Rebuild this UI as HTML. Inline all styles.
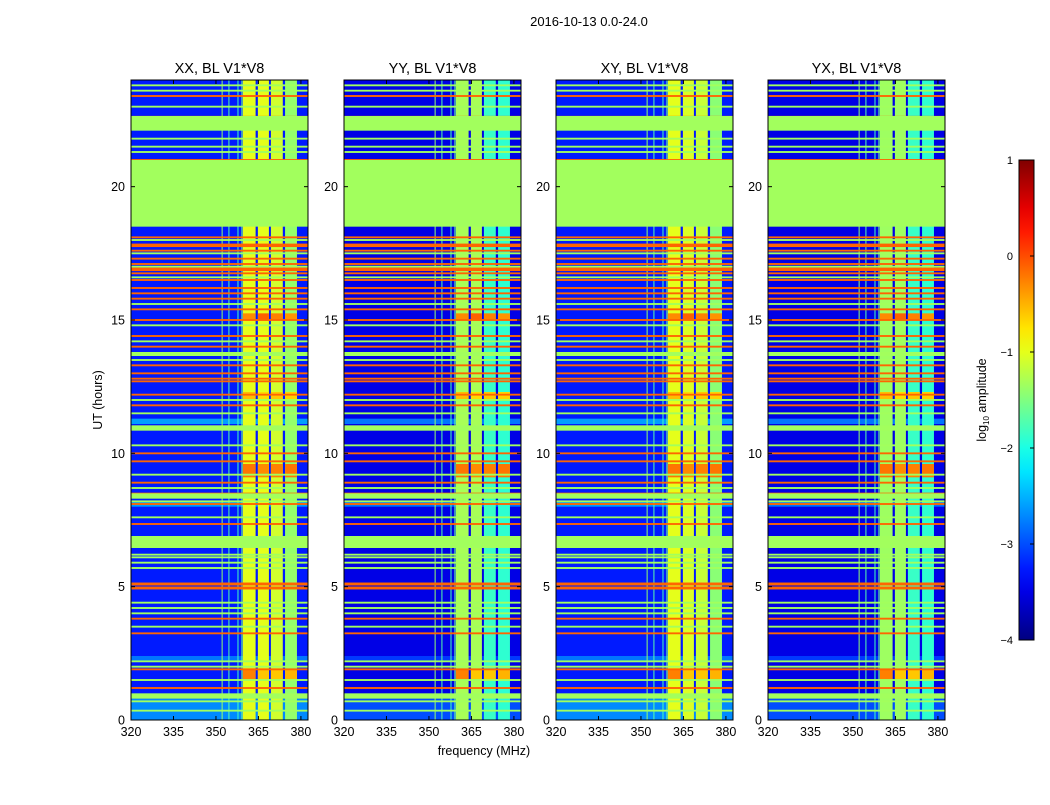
<!DOCTYPE html>
<html><head><meta charset="utf-8"><style>
body{margin:0;background:#fff;}
svg text{font-family:"Liberation Sans","DejaVu Sans",sans-serif;}
</style></head><body>
<svg id="fig" width="1050" height="800" viewBox="0 0 1050 800" xmlns="http://www.w3.org/2000/svg">
<rect width="1050" height="800" fill="#fff"/>
<text x="589" y="26" font-size="13" text-anchor="middle">2016-10-13 0.0-24.0</text>
<text x="484" y="755" font-size="12.5" text-anchor="middle">frequency (MHz)</text>
<text x="102" y="400" font-size="12.5" text-anchor="middle" transform="rotate(-90 102 400)">UT (hours)</text>
<g id="panels"></g>
<g id="cbar"></g>
</svg>
<script>
// ---- data ----
const panelTitles = ["XX, BL V1*V8","YY, BL V1*V8","XY, BL V1*V8","YX, BL V1*V8"];
const panelLeft = [131,344,556,768];
const bgLevel = [-3.25,-3.5,-3.25,-3.5];
const bandEdges = [[359.5,364],[364.8,368.7],[369.4,373.6],[374.4,378.6]];
const bandLevels = [[-1.0,-1.0,-1.1,-1.4],[-1.3,-1.3,-1.85,-1.9],[-1.0,-1.05,-1.15,-1.45],[-1.35,-1.35,-1.85,-1.9]];
const vlineFreqs = [352.0,354.4,357.6,359.0];
const vlineLevels = [-1.4,-1.7,-1.8,-1.6];
const hotStarts = [9.1,1.5,15.0,12.0];
const hotEnds = [9.6,1.9,15.25,12.3];
const hotLevels = [[-0.2,-0.3,-0.25,-0.2],[-0.25,-0.6,-0.6,-0.5],[-0.3,-0.1,-0.25,-0.35],[-0.55,-0.7,-0.6,-0.65]];
const lightRowStarts = [0.0,11.1,8.0,2.2];
const lightRowEnds = [0.8,11.3,8.2,2.4];
const lightRowLevels = [[-2.7,-3.0,-2.7,-3.0],[-2.6,-2.8,-2.6,-2.8],[-2.6,-2.8,-2.6,-2.8],[-2.8,-3.1,-2.8,-3.1]];
const flagStarts = [22.1,18.5,6.45,10.85,0.8,13.65,8.3];
const flagEnds = [22.65,21.0,6.9,11.05,1.0,13.8,8.5];
const flagLevel = -1.33;
const orangeLines = [23.4,22.62,21.0,18.1,17.8,17.6,17.3,17.1,16.9,16.75,16.5,16.2,16.0,15.8,15.4,15.0,14.4,14.0,13.3,13.0,12.8,12.7,12.2,11.8,10.0,9.7,8.9,8.45,8.1,7.35,5.1,4.95,3.8,3.25,1.9,1.2];
const orangeWidths = [0.07,0.07,0.07,0.07,0.13,0.07,0.07,0.07,0.13,0.07,0.07,0.07,0.07,0.07,0.07,0.07,0.07,0.07,0.07,0.07,0.07,0.07,0.07,0.07,0.07,0.07,0.07,0.15,0.07,0.07,0.11,0.11,0.07,0.07,0.07,0.07];
const orangeLevel = -0.12;
const greenLines = [23.8,23.6,23.0,21.8,21.5,21.3,18.0,17.5,17.0,16.6,15.6,14.8,14.2,13.5,12.0,11.5,10.3,9.2,8.7,8.2,7.6,6.2,6.1,5.9,5.7,4.4,4.2,4.0,3.5,2.2,2.0,1.5,0.7,0.35];
const yTicks = [0,5,10,15,20];
const xTicks = [320,335,350,365,380];
const cbarTicks = [1,0,-1,-2,-3,-4];
const cbarTickLabels = ["1","0","\u22121","\u22122","\u22123","\u22124"];

// ---- scales ----
const T = 80, B = 720, W = 177, F0 = 320, F1 = 382.5, H1 = 24;
const yOf = h => B - h*(B-T)/H1;
const xOf = (left,f) => left + (f-F0)*W/(F1-F0);
function jet(v){
  const x = Math.max(0,Math.min(1,(v+4)/5));
  const c = t => Math.round(255*Math.max(0,Math.min(1,1.5-Math.abs(t))));
  return `rgb(${c(4*x-3)},${c(4*x-2)},${c(4*x-1)})`;
}
const NS = "http://www.w3.org/2000/svg";
function mk(tag, attrs, parent){
  const e = document.createElementNS(NS, tag);
  for (const k in attrs) e.setAttribute(k, attrs[k]);
  parent.appendChild(e); return e;
}
const root = document.getElementById('panels');
panelTitles.forEach((title,p)=>{
  const L = panelLeft[p];
  const g = mk('g',{},root);
  
  
  const hm = mk('g',{},g);
  
  
  const R = (x,y,w,h,v,name)=>{ const r = mk('rect',{x:x,y:y,width:w,height:h,fill:jet(v)},hm);
      return r; };
  R(L,T,W,B-T,bgLevel[p],'background');
  lightRowStarts.forEach((s,i)=>R(L,yOf(lightRowEnds[i]),W,yOf(s)-yOf(lightRowEnds[i]),lightRowLevels[i][p],'light-row'));
  vlineFreqs.forEach((f,i)=>R(xOf(L,f),T,1,B-T,vlineLevels[i],'rfi-channel'));
  bandEdges.forEach((b,i)=>R(xOf(L,b[0]),T,xOf(L,b[1])-xOf(L,b[0]),B-T,bandLevels[p][i],'signal-band'));
  hotStarts.forEach((s,k)=>bandEdges.forEach((b,i)=>R(xOf(L,b[0]),yOf(hotEnds[k]),xOf(L,b[1])-xOf(L,b[0]),yOf(s)-yOf(hotEnds[k]),hotLevels[k][i],'band-hot-spot')));
  greenLines.forEach(h=>R(L,yOf(h+0.035),W,yOf(h-0.035)-yOf(h+0.035),flagLevel,'green-row'));
  orangeLines.forEach((h,i)=>R(L,yOf(h+orangeWidths[i]/2),W,yOf(h-orangeWidths[i]/2)-yOf(h+orangeWidths[i]/2),orangeLevel,'orange-row'));
  flagStarts.forEach((s,i)=>R(L,yOf(flagEnds[i]),W,yOf(s)-yOf(flagEnds[i]),flagLevel,'flagged-block'));
  const fr = mk('rect',{x:L,y:T,width:W,height:B-T,fill:'none',stroke:'#000','stroke-width':1},g);
   
  const tt = mk('text',{x:L+W/2,y:T-7,'font-size':14.5,'text-anchor':'middle'},g);
  tt.textContent = title;
   
  yTicks.forEach(h=>{
    const y = yOf(h);
    mk('line',{x1:L,x2:L+4,y1:y,y2:y,stroke:'#000'},g);
    mk('line',{x1:L+W-4,x2:L+W,y1:y,y2:y,stroke:'#000'},g);
    const t = mk('text',{x:L-6,y:y+4.5,'font-size':12.5,'text-anchor':'end'},g);
    t.textContent = h;
     
  });
  xTicks.forEach(f=>{
    const x = xOf(L,f);
    mk('line',{x1:x,x2:x,y1:B,y2:B-4,stroke:'#000'},g);
    mk('line',{x1:x,x2:x,y1:T,y2:T+4,stroke:'#000'},g);
    const t = mk('text',{x:x,y:B+16,'font-size':12.5,'text-anchor':'middle'},g);
    t.textContent = f;
     
  });
});
// colorbar
const cb = document.getElementById('cbar');
const CX = 1019, CW = 15, CT = 160, CB = 640;
const cy = v => CB - (v+4)*(CB-CT)/5;
const defs = mk('defs',{},cb);
const grad = mk('linearGradient',{id:'jetg',x1:0,y1:1,x2:0,y2:0},defs);
for (let i=0;i<=20;i++){ mk('stop',{offset:i/20,'stop-color':jet(-4+5*i/20)},grad); }
mk('rect',{x:CX,y:CT,width:CW,height:CB-CT,fill:'url(#jetg)',stroke:'#000'},cb);
cbarTicks.forEach((v,i)=>{
  const y = cy(v);
  mk('line',{x1:CX+CW-4,x2:CX+CW,y1:y,y2:y,stroke:'#000'},cb);
  const t = mk('text',{x:CX-6,y:y+4,'font-size':11,'text-anchor':'end'},cb);
  t.textContent = cbarTickLabels[i];
   
});
const cl = mk('text',{x:986,y:400,'font-size':12.5,'text-anchor':'middle',transform:'rotate(-90 986 400)'},cb);
cl.innerHTML = 'log<tspan font-size="8" dy="3">10</tspan><tspan dy="-3"> amplitude</tspan>';
 
</script>
</body></html>
